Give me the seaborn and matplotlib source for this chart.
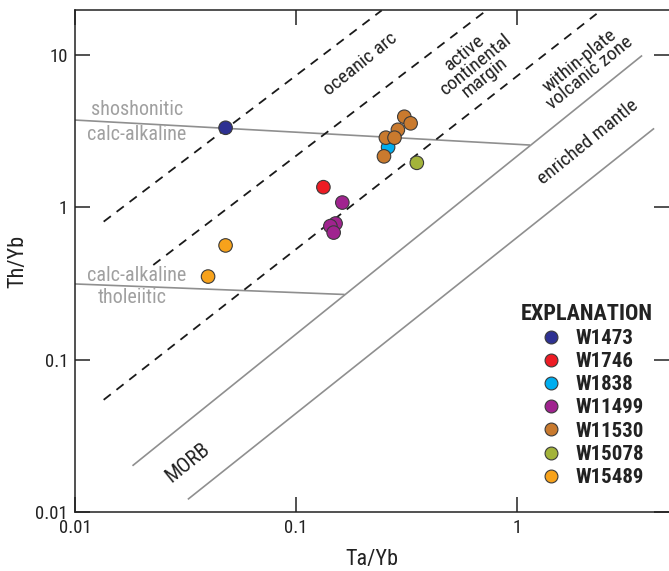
import matplotlib
matplotlib.use("Agg")
import matplotlib.pyplot as plt
from matplotlib import font_manager
import seaborn as sns
import pandas as pd

# ---- sample data: Ta/Yb vs Th/Yb ----
samples = ["W1473",
           "W1746",
           "W1838",
           "W11499", "W11499", "W11499", "W11499",
           "W11530", "W11530", "W11530", "W11530", "W11530", "W11530",
           "W15078",
           "W15489", "W15489"]
ta_yb = [0.048,
         0.133,
         0.261,
         0.162, 0.151, 0.143, 0.148,
         0.309, 0.330, 0.289, 0.255, 0.279, 0.250,
         0.352,
         0.048, 0.040]
th_yb = [3.31,
         1.35,
         2.47,
         1.07, 0.78, 0.75, 0.68,
         3.91, 3.54, 3.21, 2.85, 2.85, 2.15,
         1.95,
         0.56, 0.35]

sample_order = ["W1473", "W1746", "W1838", "W11499", "W11530", "W15078", "W15489"]
sample_colors = ["#2e3192", "#ed1c24", "#00aeef", "#a0238f", "#c97a2e", "#a3b33a", "#f7a21b"]

# ---- field boundaries (Ta/Yb, Th/Yb endpoints) ----
morb_upper_x = [0.0182, 3.68]
morb_upper_y = [0.0201, 9.86]
morb_lower_x = [0.0324, 4.17]
morb_lower_y = [0.0121, 3.28]
shosh_x = [0.01, 1.145]
shosh_y = [3.72, 2.55]
thol_x = [0.01, 0.166]
thol_y = [0.313, 0.267]
arc1_x = [0.01348, 0.2443]
arc1_y = [0.802, 19.5]
arc2_x = [0.0226, 0.704]
arc2_y = [0.417, 18.8]
arc3_x = [0.01348, 2.29]
arc3_y = [0.0544, 18.5]

x_ticks = [0.01, 0.1, 1]
x_ticklabels = ["0.01", "0.1", "1"]
y_ticks = [0.01, 0.1, 1, 10]
y_ticklabels = ["0.01", "0.1", "1", "10"]

sns.set_style("ticks")
installed = {f.name for f in font_manager.fontManager.ttflist}
narrow = None
for cand in ["Roboto Condensed", "Liberation Sans Narrow", "Open Sans Condensed"]:
    if cand in installed:
        narrow = cand
        break
families = ([narrow] if narrow else []) + ["DejaVu Sans"]
plt.rcParams["font.family"] = families

fig = plt.figure(figsize=(6.69, 5.71), dpi=100)
ax = fig.add_axes([75 / 669, 59 / 571, 594 / 669, 502 / 571])
ax.set_xscale("log")
ax.set_yscale("log")

gray = "#8f8f8f"
for xs, ys in [(morb_upper_x, morb_upper_y), (morb_lower_x, morb_lower_y),
               (shosh_x, shosh_y), (thol_x, thol_y)]:
    ax.plot(xs, ys, color=gray, lw=1.2, solid_capstyle="butt", zorder=2)
for xs, ys in [(arc1_x, arc1_y), (arc2_x, arc2_y), (arc3_x, arc3_y)]:
    ax.plot(xs, ys, color="#1a1a1a", lw=1.3, linestyle=(0, (5.0, 4.0)), zorder=2)

df = pd.DataFrame({"Sample": samples, "Ta/Yb": ta_yb, "Th/Yb": th_yb})
sns.scatterplot(data=df, x="Ta/Yb", y="Th/Yb", hue="Sample", hue_order=sample_order,
                palette=dict(zip(sample_order, sample_colors)), s=95,
                edgecolor="#3a3a3a", linewidth=0.8, zorder=3, ax=ax)

ax.set_xlim(0.01, 4.87)
ax.set_ylim(0.01, 19.6)
ax.minorticks_off()
ax.set_xticks(x_ticks)
ax.set_xticklabels(x_ticklabels)
ax.set_yticks(y_ticks)
ax.set_yticklabels(y_ticklabels)
ax.tick_params(which="major", direction="in", length=11, width=1.1, color="#222222",
               top=True, right=True, labelsize=13.5, labelcolor="#222222", pad=5)
for side in ["left", "bottom", "top"]:
    ax.spines[side].set_linewidth(1.1)
    ax.spines[side].set_color("#222222")
ax.spines["right"].set_visible(False)

ax.set_xlabel("Ta/Yb", fontsize=16, color="#222222", labelpad=9)
ax.set_ylabel("Th/Yb", fontsize=16, color="#222222", labelpad=5)

# field names
ang = 39
dark = "#222222"
fs = 14
ax.text(0.195, 8.6, "oceanic arc", rotation=ang, ha="center", va="center",
        fontsize=fs, color=dark, rotation_mode="anchor")
ax.text(0.646, 8.6, "active\ncontinental\nmargin", rotation=ang, ha="center", va="center",
        fontsize=fs, color=dark, rotation_mode="anchor", linespacing=0.85)
ax.text(2.03, 8.3, "within-plate\nvolcanic zone", rotation=ang, ha="center", va="center",
        fontsize=fs, color=dark, rotation_mode="anchor", linespacing=0.85)
ax.text(2.10, 2.67, "enriched mantle", rotation=ang, ha="center", va="center",
        fontsize=fs, color=dark, rotation_mode="anchor")
ax.text(0.0325, 0.021, "MORB", rotation=ang, ha="center", va="center",
        fontsize=fs + 1, color=dark, rotation_mode="anchor")

lg = "#a0a0a0"
gfs = 14.5
ax.text(0.0191, 4.33, "shoshonitic", ha="center", va="center", fontsize=gfs, color=lg)
ax.text(0.0191, 3.01, "calc-alkaline", ha="center", va="center", fontsize=gfs, color=lg)
ax.text(0.0191, 0.358, "calc-alkaline", ha="center", va="center", fontsize=gfs, color=lg)
ax.text(0.0181, 0.257, "tholeiitic", ha="center", va="center", fontsize=gfs, color=lg)

leg = ax.legend(title="EXPLANATION", loc="upper center", bbox_to_anchor=(0.862, 0.425),
                frameon=False, fontsize=15, title_fontsize=16, handletextpad=0.15,
                labelspacing=0.2, markerscale=0.95, borderaxespad=0, borderpad=0.2)
leg.get_title().set_fontweight("bold")
leg.get_title().set_color(dark)
for t in leg.get_texts():
    t.set_fontweight("bold")
    t.set_color(dark)

fig.savefig("out.png", dpi=100)
